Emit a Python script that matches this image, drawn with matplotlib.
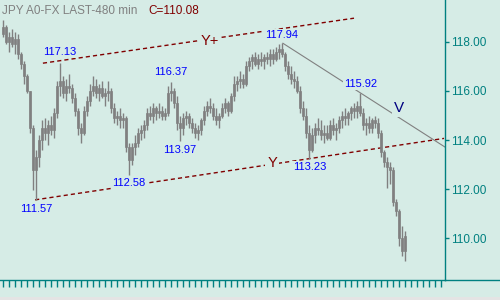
import matplotlib
matplotlib.use("Agg")
import matplotlib.pyplot as plt
from matplotlib.lines import Line2D
from matplotlib.patches import Rectangle

plt.rcParams['font.family'] = ['Liberation Sans', 'DejaVu Sans']

# ---- data (bar index, prices) ----
opens = [118.3, 118.6, 118.0, 118.2, 117.9, 118.1, 117.5, 117.1, 116.6, 116.0,
         114.5, 112.8, 113.3, 114.0, 114.5, 114.3, 114.6, 114.4, 115.1, 116.2,
         116.4, 115.9, 116.2, 116.1, 115.7, 115.2, 114.5, 114.3, 115.2, 115.6,
         116.0, 116.2, 115.9, 116.1, 115.8, 115.9, 116.0, 115.3, 114.9, 115.0,
         114.8, 114.9, 113.7, 113.2, 113.7, 113.9, 114.3, 114.4, 114.6, 115.1,
         115.0, 115.3, 115.1, 115.2, 115.0, 115.1, 115.9, 116.0, 115.5, 114.7,
         114.5, 114.9, 115.0, 114.7, 114.5, 114.3, 114.4, 114.8, 115.2, 115.4,
         115.3, 115.0, 114.8, 115.0, 115.3, 115.5, 115.2, 115.8, 116.3, 116.4,
         116.5, 116.3, 117.0, 117.2, 117.4, 117.1, 117.3, 117.2, 117.4, 117.3,
         117.5, 117.3, 117.6, 117.7, 117.5, 117.0, 116.7, 116.5, 116.4, 116.0,
         115.3, 115.0, 114.3, 113.6, 114.2, 114.5, 114.4, 114.2, 114.3, 114.1,
         114.6, 114.4, 114.5, 114.8, 115.0, 114.9, 115.1, 115.3, 115.2, 115.4,
         115.1, 114.6, 114.7, 114.5, 114.8, 114.7, 114.3, 113.5, 113.1, 112.9,
         112.8, 111.5, 111.1, 110.0, 109.5]
highs = [118.9, 118.7, 118.4, 118.5, 118.4, 118.3, 117.6, 117.2, 116.7, 116.0,
         114.6, 113.6, 114.2, 114.8, 114.9, 114.8, 115.0, 115.3, 116.4, 117.13,
         116.6, 116.5, 116.7, 116.3, 115.9, 115.3, 114.7, 115.4, 115.8, 116.3,
         116.6, 116.5, 116.3, 116.4, 116.1, 116.4, 116.1, 115.5, 115.2, 115.3,
         115.1, 115.0, 113.9, 113.9, 114.2, 114.5, 114.6, 114.8, 115.3, 115.4,
         115.5, 115.4, 115.5, 115.4, 115.3, 116.2, 116.37, 116.1, 115.8, 115.0,
         115.1, 115.2, 115.1, 114.9, 114.7, 114.6, 114.9, 115.4, 115.6, 115.7,
         115.5, 115.3, 115.1, 115.5, 115.7, 115.6, 115.9, 116.6, 116.6, 116.8,
         116.7, 117.2, 117.4, 117.5, 117.6, 117.5, 117.6, 117.5, 117.6, 117.7,
         117.7, 117.8, 117.9, 117.94, 117.6, 117.2, 117.0, 116.8, 116.6, 116.2,
         115.6, 115.3, 114.6, 114.5, 114.7, 114.9, 114.8, 114.6, 114.6, 114.8,
         114.9, 114.7, 115.0, 115.2, 115.3, 115.2, 115.4, 115.5, 115.6, 115.92,
         115.3, 114.9, 115.0, 114.9, 115.0, 114.9, 114.4, 113.6, 113.3, 113.1,
         112.9, 111.6, 111.2, 110.5, 110.3]
lows = [118.2, 117.9, 117.6, 117.8, 117.5, 117.3, 116.9, 116.3, 115.9, 114.3,
        111.97, 111.57, 112.9, 113.6, 114.0, 113.8, 114.2, 114.1, 114.9, 115.8,
        115.7, 115.6, 115.9, 115.5, 115.0, 114.2, 113.9, 114.2, 115.0, 115.4,
        115.8, 115.7, 115.6, 115.7, 115.4, 115.6, 115.1, 114.7, 114.6, 114.5,
        114.5, 113.5, 112.58, 113.0, 113.4, 113.7, 114.0, 114.1, 114.4, 114.8,
        114.7, 114.8, 114.9, 114.8, 114.8, 115.0, 115.6, 115.3, 114.4, 113.97,
        114.2, 114.6, 114.5, 114.3, 114.1, 114.0, 114.2, 114.6, 115.0, 115.1,
        114.8, 114.6, 114.5, 114.9, 115.1, 115.0, 115.1, 115.6, 116.0, 116.1,
        116.1, 116.2, 116.8, 116.9, 117.0, 116.9, 117.0, 116.9, 117.1, 117.0,
        117.1, 117.2, 117.3, 117.4, 116.8, 116.5, 116.3, 116.1, 115.9, 115.1,
        114.8, 114.1, 113.23, 113.5, 113.9, 114.2, 114.0, 113.9, 114.0, 114.0,
        114.2, 114.0, 114.3, 114.5, 114.6, 114.6, 114.8, 114.9, 114.9, 115.0,
        114.4, 114.2, 114.3, 114.3, 114.5, 114.1, 113.3, 112.9, 112.04, 112.2,
        111.3, 110.9, 109.7, 109.3, 109.1]
closes = [118.6, 118.0, 118.2, 117.9, 118.1, 117.5, 117.1, 116.6, 116.0, 114.5,
          112.8, 113.3, 114.0, 114.5, 114.3, 114.6, 114.4, 115.1, 116.2, 116.4,
          115.9, 116.2, 116.1, 115.7, 115.2, 114.5, 114.3, 115.2, 115.6, 116.0,
          116.2, 115.9, 116.1, 115.8, 115.9, 116.0, 115.3, 114.9, 115.0, 114.8,
          114.9, 113.7, 113.2, 113.7, 113.9, 114.3, 114.4, 114.6, 115.1, 115.0,
          115.3, 115.1, 115.2, 115.0, 115.1, 115.9, 116.0, 115.5, 114.7, 114.5,
          114.9, 115.0, 114.7, 114.5, 114.3, 114.4, 114.8, 115.2, 115.4, 115.3,
          115.0, 114.8, 115.0, 115.3, 115.5, 115.2, 115.8, 116.3, 116.4, 116.5,
          116.3, 117.0, 117.2, 117.4, 117.1, 117.3, 117.2, 117.4, 117.3, 117.5,
          117.3, 117.6, 117.7, 117.5, 117.0, 116.7, 116.5, 116.4, 116.0, 115.3,
          115.0, 114.3, 113.6, 114.2, 114.5, 114.4, 114.2, 114.3, 114.1, 114.6,
          114.4, 114.5, 114.8, 115.0, 114.9, 115.1, 115.3, 115.2, 115.4, 115.1,
          114.6, 114.7, 114.5, 114.8, 114.7, 114.3, 113.5, 113.1, 112.9, 112.8,
          111.5, 111.1, 110.0, 109.5, 110.08]

# pivot labels: (bar index, price, text)
pivot_x = [19, 56, 93, 119, 11, 42, 59, 102]
pivot_text = ["117.13", "116.37", "117.94", "115.92", "111.57", "112.58", "113.97", "113.23"]

# trend lines: (x0, y0, x1, y1) in bar index / price
upper_line = (13.3, 117.13, 117.0, 118.96)
lower_line = (10.7, 111.57, 147.0, 114.07)
v_line = (93.3, 117.94, 147.3, 113.72)

yticks = [110.0, 112.0, 114.0, 116.0, 118.0]
title_text = "JPY A0-FX LAST-480 min"
close_text = "C=110.08"

BG = "#d6ece6"
TEAL = "#008080"
GRAY = "#808080"
DRED = "#800000"

W, H = 500, 300
fig = plt.figure(figsize=(5, 3), dpi=100, facecolor=BG)
ax_l, ax_r, ax_t, ax_b = 0, 445, 0, 280
ax = fig.add_axes([ax_l / W, (H - ax_b) / H, (ax_r - ax_l) / W, (ax_b - ax_t) / H])
ax.set_facecolor(BG)
ax.set_xlim(-1, 147.33)
ax.set_ylim(108.31, 119.70)

n = len(closes)
xs = list(range(n))
ax.vlines(xs, lows, highs, color=GRAY, linewidth=1.0, zorder=3)
bottoms = [min(o, c) for o, c in zip(opens, closes)]
heights = [max(abs(c - o), 0.04) for o, c in zip(opens, closes)]
ax.bar(xs, heights, bottom=bottoms, width=0.85, color=GRAY, edgecolor=GRAY, linewidth=0.5, zorder=3)

dash = (0, (3.0, 2.2))
for (x0, y0, x1, y1) in [upper_line, lower_line]:
    ax.plot([x0, x1], [y0, y1], color=DRED, linewidth=1.0, linestyle=dash, zorder=2)
ax.plot([v_line[0], v_line[2]], [v_line[1], v_line[3]], color=GRAY, linewidth=0.8, zorder=2)

# label positions in pixel-offset from pivot
offsets = {"117.13": (0, 11), "116.37": (0, 10), "117.94": (0, 8), "115.92": (1, 9),
           "111.57": (0, -9), "112.58": (0, -8), "113.97": (0, -9), "113.23": (1, -8)}
for px, txt in zip(pivot_x, pivot_text):
    py = float(txt)
    dx, dy = offsets[txt]
    ax.annotate(txt, (px, py), xytext=(dx * 0.72, dy * 0.72), textcoords="offset points",
                ha="center", va="center", fontsize=8, color="#0000ff", zorder=5,
                bbox=dict(boxstyle="square,pad=0.1", facecolor=BG, edgecolor="none"))

def text_at(xpix, ypix, s, **kw):
    fig.text(xpix / W, 1 - ypix / H, s, **kw)

text_at(210, 41, "Y+", fontsize=10.5, color=DRED, ha="center", va="center", zorder=6,
        bbox=dict(boxstyle="square,pad=0.15", facecolor=BG, edgecolor="none"))
text_at(272, 163, "Y", fontsize=10.5, color=DRED, ha="center", va="center", zorder=6,
        bbox=dict(boxstyle="square,pad=0.15", facecolor=BG, edgecolor="none"))
text_at(399, 108, "V", fontsize=11, color="#000080", ha="center", va="center", zorder=6,
        bbox=dict(boxstyle="square,pad=0.15", facecolor=BG, edgecolor="none"))

text_at(2, 11, title_text, fontsize=8.5, color=GRAY, ha="left", va="center")
text_at(148, 11, close_text, fontsize=8.5, color=DRED, ha="left", va="center")

for s in ["top", "left"]:
    ax.spines[s].set_visible(False)
for s in ["right", "bottom"]:
    ax.spines[s].set_color(TEAL)
    ax.spines[s].set_linewidth(1.0)

ax.yaxis.tick_right()
ax.set_yticks(yticks)
ax.set_yticklabels([f"{v:.2f}" for v in yticks])
ax.tick_params(axis="y", direction="out", length=3, width=1, color=TEAL, labelcolor=TEAL,
               labelsize=8.5, pad=1)
ax.set_xticks(list(range(0, 148, 2)))
ax.set_xticklabels([])
ax.tick_params(axis="x", direction="out", length=5, width=1, color=TEAL)

# bottom axis line continues to the right edge
fig.add_artist(Line2D([ax_r / W, 1], [(H - ax_b) / H] * 2, color=TEAL, linewidth=1.0))
# scrollbar strip at bottom
fig.add_artist(Rectangle((0, 0), 1, 3 / H, transform=fig.transFigure, facecolor="#e4e4e4",
                         edgecolor="none"))

fig.savefig("out.png", dpi=100, facecolor=BG)
